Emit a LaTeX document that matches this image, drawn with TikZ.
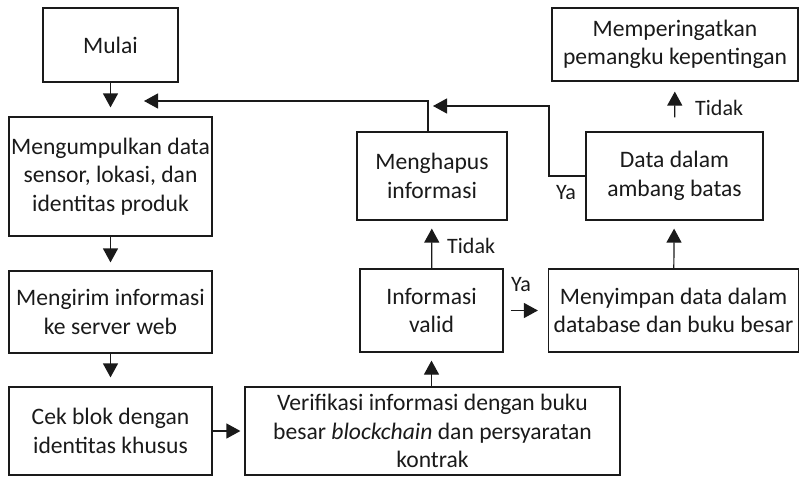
\documentclass[tikz,border=0pt]{standalone}
\usepackage{fontspec}
\setmainfont{Carlito}
\usetikzlibrary{arrows.meta}
\definecolor{ink}{HTML}{1A1A1A}
\tikzset{
  box/.style={draw=ink, line width=1.2pt, rectangle, inner sep=0pt, align=center,
    text=ink, font=\fontsize{23.6}{28.5}\selectfont},
  lbl/.style={text=ink, font=\fontsize{22}{26}\selectfont, inner sep=0pt},
  arr/.style={draw=ink, line width=1.2pt, -{Triangle[width=15pt,length=14pt]}},
}
\begin{document}
\begin{tikzpicture}[x=1pt,y=-1pt]
\useasboundingbox (0,0) rectangle (800,477);

% process boxes
\node[box, minimum width=135pt, minimum height=74pt]  (mulai)   at (110.5,45)   {Mulai};
\node[box, minimum width=203pt, minimum height=119pt] (collect) at (110.5,176.5) {Mengumpulkan data\\sensor, lokasi, dan\\identitas produk};
\node[box, minimum width=203pt, minimum height=82pt]  (send)    at (110.5,312)  {Mengirim informasi\\ke server web};
\node[box, minimum width=203pt, minimum height=88pt]  (check)   at (110.5,431)  {Cek blok dengan\\identitas khusus};
\node[box, minimum width=375pt, minimum height=88pt]  (verify)  at (432.5,431)  {Verifikasi informasi dengan buku\\besar \textit{blockchain} dan persyaratan\\kontrak};
\node[box, minimum width=143pt, minimum height=83pt]  (valid)   at (431.5,310.5) {Informasi\\valid};
\node[box, minimum width=250pt, minimum height=83pt]  (store)   at (673.5,310.5) {Menyimpan data dalam\\database dan buku besar};
\node[box, minimum width=150pt, minimum height=88pt]  (delete)  at (432,176)    {Menghapus\\informasi};
\node[box, minimum width=177pt, minimum height=88pt]  (range)   at (674.5,176)  {Data dalam\\ambang batas};
\node[box, minimum width=246pt, minimum height=73pt]  (warn)    at (675,44.5)   {Memperingatkan\\pemangku kepentingan};

% main flow
\draw[arr, shorten >=9pt] (mulai) -- (collect);
\draw[arr, shorten >=8pt] (collect) -- (send);
\draw[arr, shorten >=9pt] (send) -- (check);
\draw[arr, shorten >=4pt] (check) -- (verify);
\draw[arr, shorten >=8pt] (verify.north -| valid) -- (valid);
\draw[arr, shorten >=8pt] (valid) -- (delete);
\draw[arr, shorten <=7pt, shorten >=10pt] (valid) -- (store);
\draw[arr, shorten >=8pt] (store) -- (range);
\draw[arr, shorten <=14pt, shorten >=10pt] (range) -- (warn);

% return paths
\coordinate (backend) at (144,101);
\coordinate (delup)   at ([xshift=-4pt]delete.north);
\draw[arr] (delup) |- (backend);
\coordinate (yabend) at (549,106);
\coordinate (yaend)  at (433,106);
\draw[arr] (range.west) -| (yabend) -- (yaend);

% branch labels
\node[lbl, anchor=west] (t1) at (695,108) {Tidak};
\node[lbl] (y1) at (566,193) {Ya};
\node[lbl, anchor=west] (t2) at (447,246) {Tidak};
\node[lbl] (y2) at (521,285) {Ya};
\end{tikzpicture}
\end{document}
